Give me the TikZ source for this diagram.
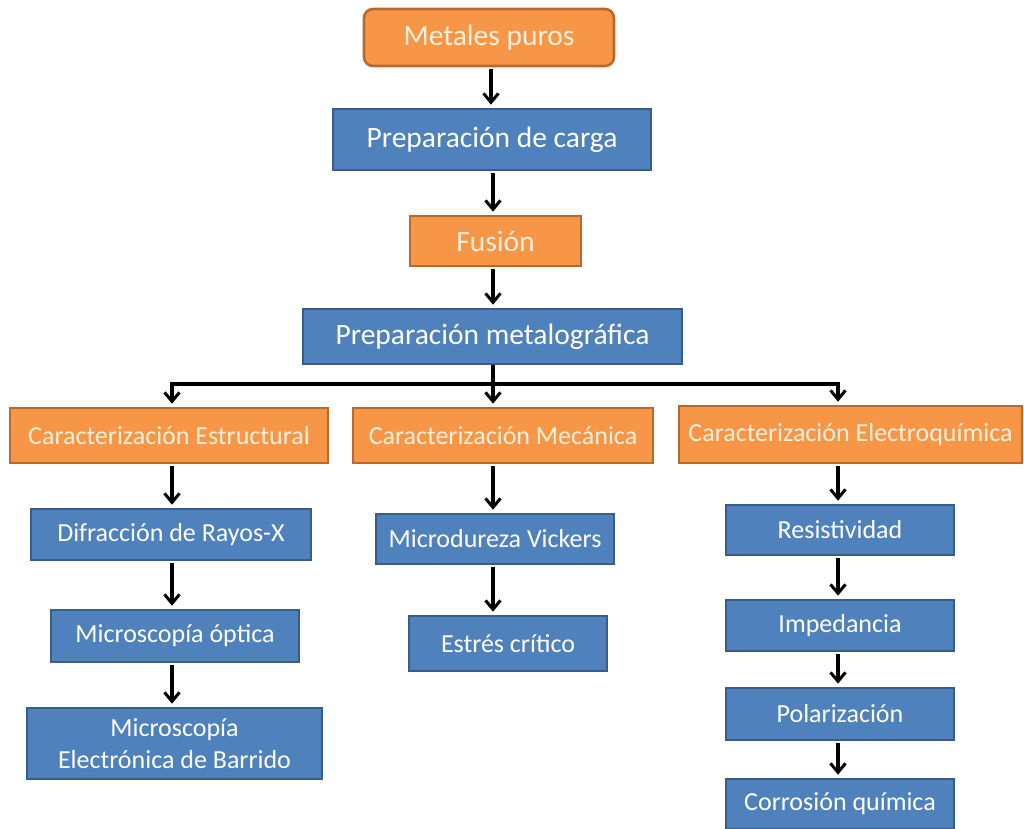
\documentclass[tikz,border=0pt]{standalone}
\usepackage{fontspec}
\setmainfont{Carlito}
\usetikzlibrary{arrows.meta}
\definecolor{orng}{HTML}{F79646}
\definecolor{orngdark}{HTML}{B9692C}
\definecolor{blu}{HTML}{4F81BD}
\definecolor{bludark}{HTML}{385D8A}
\definecolor{cream}{HTML}{FDF0DC}
\tikzset{
  box/.style={draw, line width=2.6pt, inner sep=2pt, align=center},
  obox/.style={box, fill=orng, draw=orngdark, text=cream},
  bbox/.style={box, fill=blu, draw=bludark, text=white},
  big/.style={font=\fontsize{29.5}{34}\selectfont},
  mid/.style={font=\fontsize{26}{32}\selectfont},
  link/.style={line width=3.2pt},
  arr/.style={link, -{Straight Barb[length=9pt,width=15pt,line width=3pt]}, shorten >=3pt, shorten <=2pt}
}
\begin{document}
\begin{tikzpicture}[x=1pt,y=-1pt]
\useasboundingbox (0,0) rectangle (1024,828);

% main chain
\node[obox, big, rounded corners=9pt, minimum width=250, minimum height=57] (metales) at (489,37.5) {Metales puros};
\node[bbox, big, minimum width=318, minimum height=61] (prepcarga) at (492,139.5) {Preparación de carga};
\node[obox, big, minimum width=171, minimum height=50] (fusion) at (495.5,241) {Fusión};
\node[bbox, big, minimum width=379, minimum height=55] (prepmet) at (492.5,336.5) {Preparación metalográfica};

% characterisation headers
\node[obox, mid, minimum width=318, minimum height=55] (cest) at (169,435.5) {Caracterización Estructural};
\node[obox, mid, minimum width=300, minimum height=55] (cmec) at (503,435.5) {Caracterización Mecánica};
\node[obox, mid, minimum width=343, minimum height=57] (celec) at (850.5,434.5) {Caracterización Electroquímica};

% structural column
\node[bbox, mid, minimum width=280, minimum height=51] (difr) at (171,534.5) {Difracción de Rayos-X};
\node[bbox, mid, minimum width=248, minimum height=52] (mopt) at (175,636) {Microscopía óptica};
\node[bbox, mid, minimum width=295, minimum height=71, inner sep=0pt] (meb) at (174.5,743.5) {Microscopía\\Electrónica de Barrido};

% mechanical column
\node[bbox, mid, minimum width=238, minimum height=50] (micro) at (495,539) {Microdureza Vickers};
\node[bbox, mid, minimum width=198, minimum height=55] (estres) at (508,643.5) {Estrés crítico};

% electrochemical column
\node[bbox, mid, minimum width=228, minimum height=50] (resist) at (840,530) {Resistividad};
\node[bbox, mid, minimum width=228, minimum height=51] (imped) at (840,625.5) {Impedancia};
\node[bbox, mid, minimum width=228, minimum height=52] (polar) at (840,714) {Polarización};
\node[bbox, mid, minimum width=228, minimum height=50] (corr) at (840,804) {Corrosión química};

% column axes
\coordinate (cA) at (491,0);
\coordinate (cM) at (493,0);
\coordinate (cL) at (172,0);
\coordinate (cR) at (838,0);
\coordinate (bus) at (0,384);

% connectors of the main chain
\draw[arr] (cA |- metales.south) -- (cA |- prepcarga.north);
\draw[arr] (cM |- prepcarga.south) -- (cM |- fusion.north);
\draw[arr] (cM |- fusion.south) -- (cM |- prepmet.north);

% branching bus
\draw[link] (cM |- prepmet.south) -- (cM |- bus);
\draw[link, line cap=rect] (cL |- bus) -- (cR |- bus);
\draw[arr, shorten <=0pt] (cL |- bus) -- (cL |- cest.north);
\draw[arr, shorten <=0pt] (cM |- bus) -- (cM |- cmec.north);
\draw[arr, shorten <=0pt] (cR |- bus) -- (cR |- celec.north);

% column connectors
\draw[arr] (cL |- cest.south) -- (cL |- difr.north);
\draw[arr] (cL |- difr.south) -- (cL |- mopt.north);
\draw[arr] (cL |- mopt.south) -- (cL |- meb.north);
\draw[arr] (cM |- cmec.south) -- (cM |- micro.north);
\draw[arr] (cM |- micro.south) -- (cM |- estres.north);
\draw[arr] (cR |- celec.south) -- (cR |- resist.north);
\draw[arr] (cR |- resist.south) -- (cR |- imped.north);
\draw[arr] (cR |- imped.south) -- (cR |- polar.north);
\draw[arr] (cR |- polar.south) -- (cR |- corr.north);
\end{tikzpicture}
\end{document}
